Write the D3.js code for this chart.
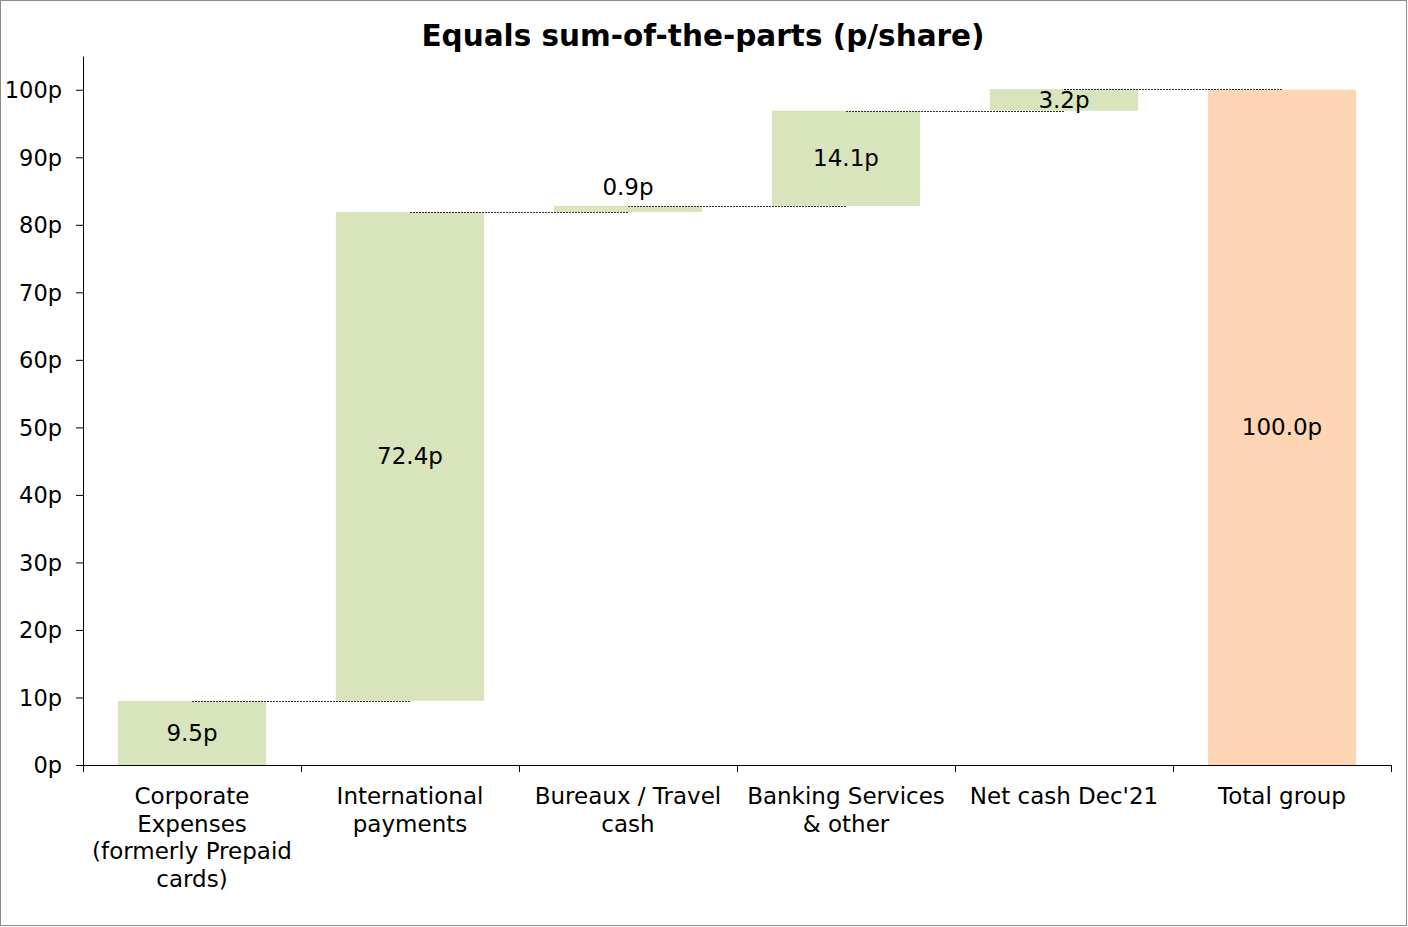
<!DOCTYPE html>
<html>
<head>
<meta charset="utf-8">
<script src="https://cdn.jsdelivr.net/npm/d3@7"></script>
<style>
  html, body { margin: 0; padding: 0; background: #fff; }
  svg { display: block; }
  text { font-family: "DejaVu Sans", Verdana, sans-serif; fill: #000; }
</style>
</head>
<body>
<svg id="chart" width="1408" height="927"></svg>
<script>
const title = "Equals sum-of-the-parts (p/share)";
const categories = ["Corporate Expenses (formerly Prepaid cards)", "International payments", "Bureaux / Travel cash", "Banking Services & other", "Net cash Dec'21", "Total group"];
const categoryLines = [["Corporate", "Expenses", "(formerly Prepaid", "cards)"], ["International", "payments"], ["Bureaux / Travel", "cash"], ["Banking Services", "& other"], ["Net cash Dec'21"], ["Total group"]];
const values = [9.5, 72.4, 0.9, 14.1, 3.2, 100.0];
const isTotal = [false, false, false, false, false, true];
const yTicks = [0, 10, 20, 30, 40, 50, 60, 70, 80, 90, 100];

const svg = d3.select("#chart");
const m = { left: 83, right: 1391, top: 56, bottom: 765 };
const FS = 23;

// frame
svg.append("rect").attr("x", 0.5).attr("y", 0.5).attr("width", 1406).attr("height", 925)
  .attr("fill", "#fff").attr("stroke", "#8c8c8c").attr("stroke-width", 1);

svg.append("text").attr("x", 703).attr("y", 46).attr("text-anchor", "middle")
  .style("font-size", "29.5px").style("font-weight", "bold").text(title);

// compute waterfall
let cum = 0;
const data = values.map((v, i) => {
  let start, end;
  if (isTotal[i]) { start = 0; end = v; }
  else { start = cum; end = cum + v; cum = end; }
  return { cat: categories[i], lines: categoryLines[i], v, start, end, total: isTotal[i] };
});

const x = d3.scaleBand().domain(categories).range([m.left, m.right]).paddingInner(0.32).paddingOuter(0.16);
const step = x.step();
const y = d3.scaleLinear().domain([0, 105]).range([m.bottom, m.top]);

// y axis
const yAxis = d3.axisLeft(y).tickValues(yTicks).tickFormat(d => d + "p").tickSize(7).tickSizeOuter(0);
const gy = svg.append("g").attr("transform", `translate(${m.left},0)`).call(yAxis);
gy.select(".domain").attr("stroke", "#000");
gy.selectAll(".tick line").attr("stroke", "#000");
gy.selectAll(".tick text").attr("x", -21).attr("dy", "0.35em").style("font-size", "22.5px").style("font-family", "DejaVu Sans, Verdana, sans-serif").attr("fill", "#000");

// bars
svg.append("g").selectAll("rect").data(data).join("rect")
  .attr("x", d => x(d.cat))
  .attr("width", x.bandwidth())
  .attr("y", d => y(Math.max(d.start, d.end)))
  .attr("height", d => Math.abs(y(d.start) - y(d.end)))
  .attr("fill", d => d.total ? "#fcd5b4" : "#d8e4bc");

// connectors
const conn = data.slice(0, -1).map((d, i) => ({ from: d, to: data[i + 1], level: d.end }));
svg.append("g").selectAll("line").data(conn).join("line")
  .attr("x1", d => x(d.from.cat) + x.bandwidth() / 2)
  .attr("x2", d => x(d.to.cat) + x.bandwidth() / 2)
  .attr("y1", d => Math.round(y(d.level)) + 0.5)
  .attr("y2", d => Math.round(y(d.level)) + 0.5)
  .attr("stroke", "#333").attr("stroke-width", 1).attr("stroke-dasharray", "2,1");

// value labels
svg.append("g").selectAll("text").data(data).join("text")
  .attr("x", d => x(d.cat) + x.bandwidth() / 2)
  .attr("y", d => {
    const top = Math.max(d.start, d.end);
    if (Math.abs(y(d.start) - y(d.end)) < 20) return y(top) - 19;
    return y((d.start + d.end) / 2);
  })
  .attr("dy", "0.35em")
  .attr("text-anchor", "middle")
  .style("font-size", FS + "px")
  .text(d => d.v.toFixed(1) + "p");

// x axis
svg.append("line").attr("x1", m.left).attr("x2", m.right).attr("y1", m.bottom + 0.5).attr("y2", m.bottom + 0.5).attr("stroke", "#000");
const bounds = categories.map(c => x(c) - x.paddingInner() * step / 2).concat([m.right]);
svg.append("g").selectAll("line").data(bounds).join("line")
  .attr("x1", d => Math.round(d) + 0.5).attr("x2", d => Math.round(d) + 0.5)
  .attr("y1", m.bottom).attr("y2", m.bottom + 7).attr("stroke", "#000");

const xl = svg.append("g").selectAll("text").data(data).join("text")
  .attr("x", d => x(d.cat) + x.bandwidth() / 2)
  .attr("y", 804)
  .attr("text-anchor", "middle")
  .style("font-size", FS + "px");
xl.each(function(d) {
  const t = d3.select(this);
  d.lines.forEach((ln, i) => {
    t.append("tspan").attr("x", x(d.cat) + x.bandwidth() / 2).attr("dy", i === 0 ? 0 : 27.7).text(ln);
  });
});
</script>
</body>
</html>
